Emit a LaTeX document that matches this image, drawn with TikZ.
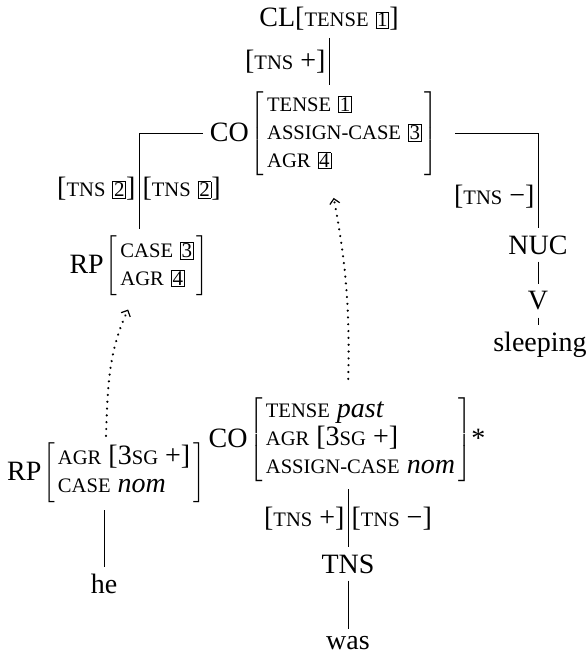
\documentclass[tikz,border=0pt]{standalone}
\usepackage{fontspec}
\setmainfont{Liberation Serif}
\usetikzlibrary{positioning,arrows.meta}

\newcommand\fsc[1]{{\fontsize{10.3}{12}\selectfont #1}}
\newcommand\tagno[1]{{\setlength\fboxsep{0.4pt}\setlength\fboxrule{0.4pt}\fbox{\fontsize{10.5}{10}\selectfont #1}}}
\newcommand\fstruct[1]{$\left[\begin{tabular}{@{\hspace{1.5pt}}l@{\hspace{1.5pt}}}#1\end{tabular}\right]$}

\begin{document}
\begin{tikzpicture}[
  x=0.5pt, y=-0.5pt,
  font=\fontsize{14}{14}\selectfont,
  line width=0.5pt,
  lab/.style={inner sep=1.5pt},
  coref/.style={line width=1.2pt, line cap=round, dash pattern=on 0.01pt off 3.4pt,
                -{Straight Barb[length=2.5pt,width=5pt,line width=0.6pt]}}
]
\useasboundingbox (0,0) rectangle (587,657);

\node[anchor=base] (cl) at (329,27) {CL[\fsc{TENSE} \tagno{1}]};
\node (co1) at (324,134) {CO\hspace{1pt}\fstruct{\fsc{TENSE} \tagno{1}\\ \fsc{ASSIGN-CASE} \tagno{3}\\ \fsc{AGR} \tagno{4}}};
\node (rp1) at (139,266) {RP\hspace{1pt}\fstruct{\fsc{CASE} \tagno{3}\\ \fsc{AGR} \tagno{4}}};
\node (nuc) at (538,245) {NUC};
\node (v) at (538,301) {V};
\node (sleep) at (540,345) {sleeping};
\node (co2) at (347,440) {CO\hspace{1pt}\fstruct{\fsc{TENSE} \textit{past}\\ \fsc{AGR} [3\fsc{SG} +]\\ \fsc{ASSIGN-CASE} \textit{nom}}*};
\node (rp2) at (106,473) {RP\hspace{1pt}\fstruct{\fsc{AGR} [3\fsc{SG} +]\\ \fsc{CASE} \textit{nom}}};
\node (he) at (104,584) {he};
\node (tns) at (348,564) {TNS};
\node (was) at (348,643) {was};

\draw (cl.south) -- (cl.south |- co1.north) node[lab,midway,left] {[\fsc{TNS} +]};
\draw (co1.west) -| (rp1.north)
  node[lab,pos=0.79,left] {[\fsc{TNS} \tagno{2}]}
  node[lab,pos=0.79,right] {[\fsc{TNS} \tagno{2}]};
\draw[shorten <=5pt] (co1.east) -| (nuc.north) node[lab,pos=0.83,left] {[\fsc{TNS} −]};
\draw (nuc) -- (v);
\draw (v) -- (v |- sleep.north);
\draw (he |- rp2.south) -- (he);
\draw (co2.south -| tns) -- (tns)
  node[lab,midway,left] {[\fsc{TNS} +]}
  node[lab,midway,right] {[\fsc{TNS} −]};
\draw (tns) -- (was);

\draw[coref, shorten >=3.5pt] (rp2.north) to[out=88,in=-115] (rp1.-102);
\draw[coref, shorten <=6pt, shorten >=7.5pt] (co2.north -| tns) to[bend right=6] (co1.-82);
\end{tikzpicture}
\end{document}
